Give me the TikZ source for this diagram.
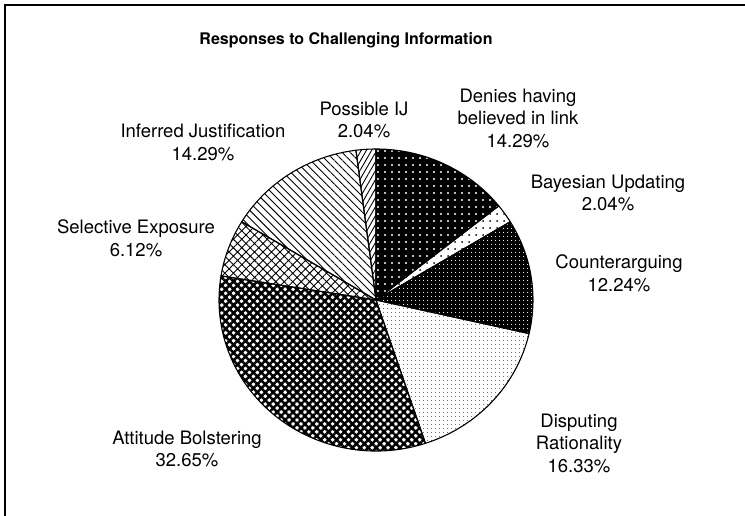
\documentclass[tikz,border=0pt]{standalone}
\usepackage{fontspec}
\setmainfont{TeX Gyre Heros}
\usetikzlibrary{patterns.meta}
\begin{document}
\begin{tikzpicture}[x=1pt,y=1pt,
  lbl/.style={align=center, inner sep=0pt, font=\fontsize{18.5}{22.5}\selectfont},
  ttl/.style={inner sep=0pt, font=\fontsize{16}{19}\selectfont\bfseries},
  slice/.style={draw=black, line width=1.1pt, line join=round},
  blackbg/.style={preaction={fill=black}},
  whitebg/.style={preaction={fill=white}}]
\useasboundingbox (0,0) rectangle (745,515);
\draw[line width=1.6pt] (5,-5) -- (5,510) -- (760,510);
\coordinate (C) at (376,215);
\newcommand\pieslice[2]{(C) -- +(#1:157 and 151) arc[start angle=#1, end angle=#2, x radius=157, y radius=151] -- cycle}
% Denies having believed in link
\path[blackbg, pattern={Dots[distance=7pt, radius=1.1pt]}, pattern color=white] \pieslice{90}{38.56};
% Bayesian Updating
\path[whitebg, pattern={Dots[distance=7pt, radius=1pt]}, pattern color=black] \pieslice{38.56}{31.21};
% Counterarguing
\path[blackbg, pattern={Dots[distance=4pt, radius=0.65pt]}, pattern color=white] \pieslice{31.21}{-12.85};
% Disputing Rationality
\path[whitebg, pattern={Dots[distance=4pt, radius=0.55pt]}, pattern color=black] \pieslice{-12.85}{-71.64};
% Attitude Bolstering
\path[whitebg, pattern={Hatch[angle=45, distance=5.6pt, line width=2.5pt]}, pattern color=black] \pieslice{-71.64}{-189.18};
% Selective Exposure
\path[whitebg, pattern={Hatch[angle=45, distance=6pt, line width=0.9pt]}, pattern color=black] \pieslice{-189.18}{-211.21};
% Inferred Justification
\path[whitebg, pattern={Lines[angle=-45, distance=5.6pt, line width=0.9pt]}, pattern color=black] \pieslice{-211.21}{-262.66};
% Possible IJ
\path[whitebg, pattern={Lines[angle=60, distance=4.5pt, line width=0.9pt]}, pattern color=black] \pieslice{-262.66}{-270};
% outlines
\foreach \a/\b in {90/38.56, 38.56/31.21, 31.21/-12.85, -12.85/-71.64, -71.64/-189.18, -189.18/-211.21, -211.21/-262.66, -262.66/-270}
  \draw[slice] \pieslice{\a}{\b};
% labels
\node[ttl] (title) at (346,475) {Responses to Challenging Information};
\node[lbl] (pij) at (364,395) {Possible IJ\\2.04\%};
\node[lbl] (den) at (518,397) {Denies having\\believed in link\\14.29\%};
\node[lbl] (bay) at (608,322) {Bayesian Updating\\2.04\%};
\node[lbl] (cou) at (619,241.5) {Counterarguing\\12.24\%};
\node[lbl] (dis) at (579,72) {Disputing\\Rationality\\16.33\%};
\node[lbl] (att) at (187,66) {Attitude Bolstering\\32.65\%};
\node[lbl] (sel) at (136,276.5) {Selective Exposure\\6.12\%};
\node[lbl] (inf) at (203,372.5) {Inferred Justification\\14.29\%};
\end{tikzpicture}
\end{document}
